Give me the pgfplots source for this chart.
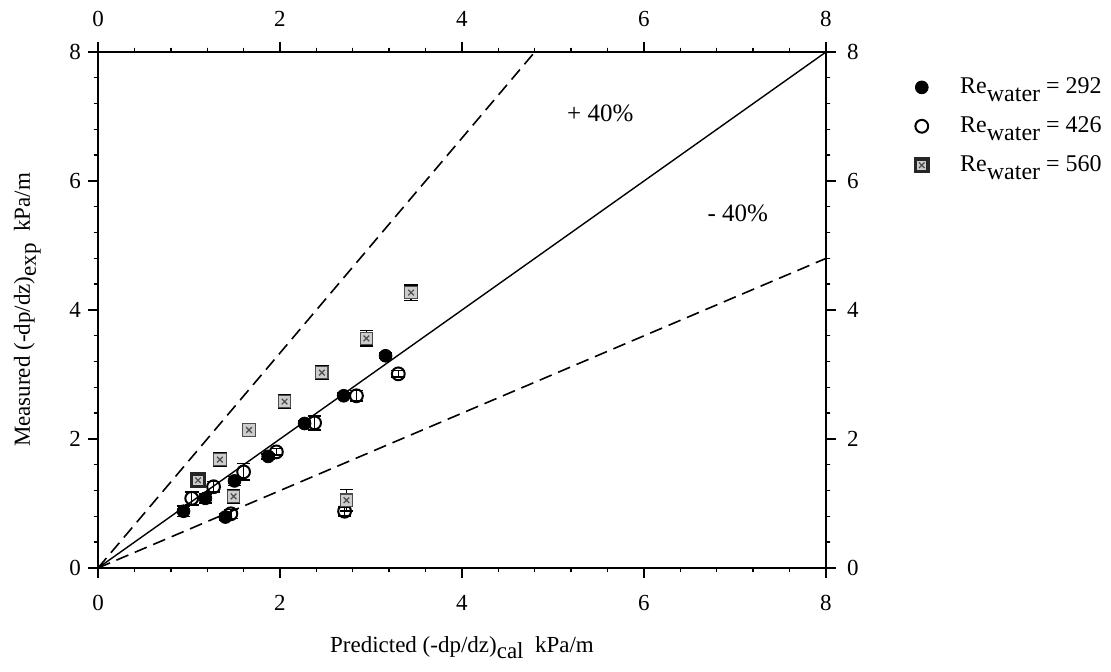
\documentclass[border=0pt]{standalone}
\usepackage{pgfplots}
\pgfplotsset{compat=1.18}
\usepackage{fontspec}
\setmainfont{Liberation Serif}

\pgfdeclareplotmark{sqx}{%
  \pgfpathrectangle{\pgfqpoint{-\pgfplotmarksize}{-\pgfplotmarksize}}{\pgfqpoint{2\pgfplotmarksize}{2\pgfplotmarksize}}%
  \pgfusepathqfillstroke
  \pgfsetlinewidth{0.6pt}%
  \pgfsetstrokecolor{black!70}%
  \pgfpathmoveto{\pgfqpoint{-0.45\pgfplotmarksize}{-0.45\pgfplotmarksize}}%
  \pgfpathlineto{\pgfqpoint{0.45\pgfplotmarksize}{0.45\pgfplotmarksize}}%
  \pgfpathmoveto{\pgfqpoint{-0.45\pgfplotmarksize}{0.45\pgfplotmarksize}}%
  \pgfpathlineto{\pgfqpoint{0.45\pgfplotmarksize}{-0.45\pgfplotmarksize}}%
  \pgfusepathqstroke
}

\pgfplotsset{
  common/.style={
    scale only axis, width=364pt, height=258pt,
    xmin=0, xmax=8, ymin=0, ymax=8,
    xtick={0,2,4,6,8}, ytick={0,2,4,6,8},
    minor tick num=4,
    tick align=outside,
    major tick length=5pt, minor tick length=2.2pt,
    axis line style={line width=0.9pt},
    every tick/.style={line width=0.7pt, black},
    tick label style={font=\fontsize{11.5}{13}\selectfont},
    /pgf/number format/assume math mode=true,
  }
}

\begin{document}
\begin{tikzpicture}
\useasboundingbox (-49pt,-52pt) rectangle (506.5pt,284pt);
\begin{axis}[common,
  tick pos=both,
  xticklabel pos=lower, yticklabel pos=left,
  xticklabel style={yshift=-5pt},
  xlabel={Predicted (-dp/dz)\raisebox{-3pt}{cal}~~kPa/m},
  ylabel={Measured (-dp/dz)\raisebox{-3pt}{exp}~~kPa/m},
  label style={font=\fontsize{11.5}{13}\selectfont},
  xlabel style={yshift=-6pt},
  ylabel style={yshift=7.5pt},
  legend style={at={(rel axis cs:1.114,0.966)}, anchor=north west, draw=none,
    font=\fontsize{12}{14}\selectfont, row sep=6pt,
    legend cell align=left},
  error bars/error bar style={line width=0.7pt, black},
  error bars/error mark options={rotate=90, mark size=3.4pt, line width=0.8pt, black},
]
% reference lines
\addplot[black, line width=0.7pt, forget plot] coordinates {(0,0) (8,8)};
\addplot[black, line width=0.8pt, dash pattern=on 6.5pt off 3.5pt, forget plot] coordinates {(0,0) (4.8,8)};
\addplot[black, line width=0.8pt, dash pattern=on 6.5pt off 3.5pt, forget plot] coordinates {(0,0) (8,4.8)};

% Re = 292
\addplot[only marks, mark=*, mark size=3.2pt, mark options={fill=black, draw=black},
  error bars/.cd, y dir=both, y explicit]
  table[x=x, y=y, y error=e] {
x y e
0.94 0.88 0.08
1.18 1.08 0.07
1.50 1.35 0.07
1.87 1.73 0.04
2.27 2.24 0.04
2.70 2.67 0.04
3.16 3.29 0.04
1.40 0.79 0.05
};
\addlegendentry{\hspace{14pt}Re\raisebox{-4pt}{water} = 292}

% Re = 426
\addplot[only marks, mark=o, mark size=3.2pt, mark options={fill=white, draw=black, line width=1pt},
  error bars/.cd, y dir=both, y explicit]
  table[x=x, y=y, y error=e] {
x y e
1.03 1.08 0.10
1.27 1.26 0.08
1.60 1.49 0.13
1.96 1.80 0.05
2.38 2.25 0.11
2.84 2.67 0.08
3.30 3.01 0.05
1.46 0.84 0.07
2.71 0.88 0.07
};
\addlegendentry{\hspace{14pt}Re\raisebox{-4pt}{water} = 426}

% Re = 560
\addplot[only marks, mark=sqx, mark size=3.1pt, mark options={fill=gray!40, draw=black!85, line width=1.6pt},
  error bars/.cd, y dir=both, y explicit]
  table[x=x, y=y, y error=e] {
x y e
1.10 1.36 0.10
1.34 1.68 0.10
1.66 2.14 0.10
2.05 2.58 0.10
2.46 3.03 0.10
2.95 3.56 0.12
3.44 4.27 0.12
1.49 1.11 0.11
2.73 1.05 0.17
};
\addlegendentry{\hspace{14pt}Re\raisebox{-4pt}{water} = 560}

\node[font=\fontsize{12.5}{14}\selectfont] at (axis cs:5.52,7.05) {+ 40\%};
\node[font=\fontsize{12.5}{14}\selectfont] at (axis cs:7.03,5.50) {- 40\%};
\end{axis}
\begin{axis}[common,
  tick pos=both,
  xticklabel pos=upper, yticklabel pos=right,
  xticklabel style={yshift=4pt},
  yticklabel style={xshift=2pt},
]
\addplot[draw=none] coordinates {(0,0)};
\end{axis}
\end{tikzpicture}
\end{document}
